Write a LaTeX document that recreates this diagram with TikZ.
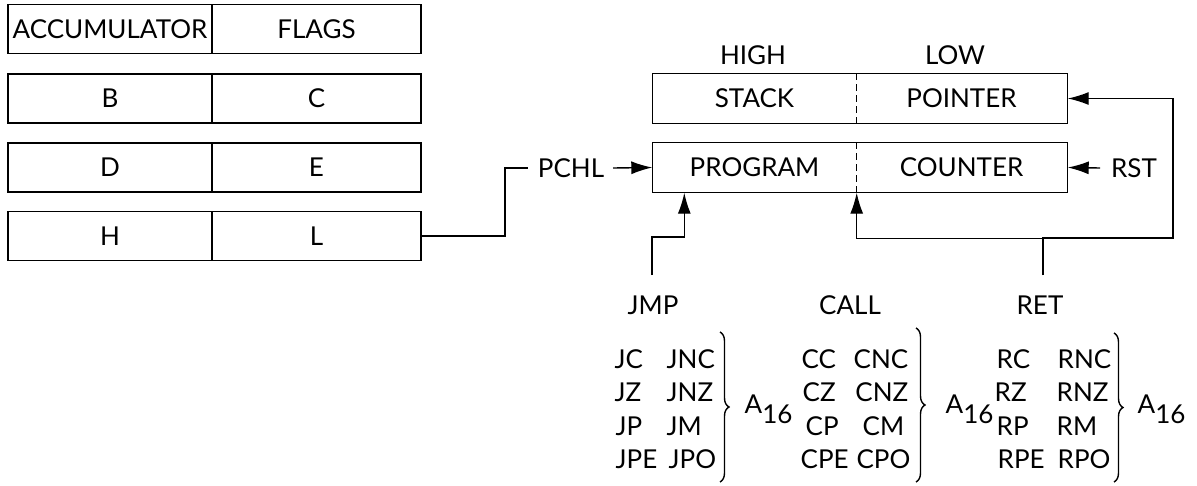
\documentclass[tikz,border=0pt]{standalone}
\usepackage{fontspec}
\setmainfont{Lato}
\usetikzlibrary{arrows.meta,decorations.pathreplacing,calc}
\begin{document}
\begin{tikzpicture}[x=1pt,y=-1pt,line width=1.4pt,
  every node/.style={font=\fontsize{26}{30}\selectfont,inner sep=0pt},
  txt/.style={text height=18.6pt,text depth=0pt},
  regbox/.style={draw,txt,minimum height=49pt,anchor=center},
  halfbox/.style={txt,minimum height=49pt,anchor=center},
  divider/.style={dash pattern=on 7pt off 4pt},
  arr/.style={-{Latex[length=21pt,width=13pt]}},
  word/.style={anchor=base west},
  rword/.style={anchor=base east},
  bracestyle/.style={decorate,decoration={brace,amplitude=9pt}}]
\useasboundingbox (0,0) rectangle (1197,485);
% left register file
\node[regbox,minimum width=204pt] (acc)   at (110,29)    {ACCUMULATOR};
\node[regbox,minimum width=209pt] (flags) at (316.5,29)  {FLAGS};
\node[regbox,minimum width=204pt] (B)     at (110,98.5)  {B};
\node[regbox,minimum width=209pt] (C)     at (316.5,98.5){C};
\node[regbox,minimum width=204pt] (D)     at (110,167.5) {D};
\node[regbox,minimum width=209pt] (E)     at (316.5,167.5){E};
\node[regbox,minimum width=204pt] (H)     at (110,236)   {H};
\node[regbox,minimum width=209pt] (L)     at (316.5,236) {L};
% stack pointer / program counter
\node[txt] (high) at (753,55) {HIGH};
\node[txt] (low)  at (955,55) {LOW};
\node[halfbox,minimum width=203pt] (stackH) at (754.5,98.5) {STACK};
\node[halfbox,minimum width=211pt] (stackL) at (961.5,98.5) {POINTER};
\node[halfbox,minimum width=203pt] (prog)   at (754.5,167.5) {PROGRAM};
\node[halfbox,minimum width=211pt] (cntr)   at (961.5,167.5) {COUNTER};
\draw (stackH.north west) rectangle (stackL.south east);
\draw[divider] (stackH.north east) -- (stackH.south east);
\draw (prog.north west) rectangle (cntr.south east);
\draw[divider] (prog.north east) -- (prog.south east);
% PCHL
\node[txt] (pchl) at (571,168) {PCHL};
\coordinate (pchlA) at (528,168);
\coordinate (pchlB) at (613,168);
\draw (L.east) -| ([xshift=-23pt]pchlA) -- (pchlA);
\draw[arr] (pchlB) -- (prog.west);
% RST
\node[txt] (rst) at (1134,168) {RST};
\coordinate (rstA) at (1100,168);
\draw[arr] (rstA) -- (cntr.east);
% JMP / CALL / RET
\node[txt] (jmp)  at (653,305.5)  {JMP};
\node[txt] (call) at (850,305.5)  {CALL};
\node[txt] (ret)  at (1040,305.5) {RET};
\coordinate (jmpA) at (652,275);
\draw[arr] (jmpA) -- ++(0,-38) -| ([xshift=32pt]prog.south west);
\coordinate (retA) at (1043,275);
\coordinate (fbR)  at (1173,238);
\draw[arr] (retA) |- ([yshift=-46pt]prog.south east) -- (prog.south east);
\draw[arr] (retA) |- (fbR) |- (stackL.east);
% instruction lists
\foreach \n/\x/\y/\t in {
  jc/614/368/JC, jnc/666/368/JNC,
  jz/614/401/JZ, jnz/666/401/JNZ,
  jp/615/435/JP, jm/666/435/JM,
  jpe/615/468/JPE, jpo/668/468/JPO,
  cc/801/368/CC, cz/802/401/CZ, cp/805/435/CP, cpe/800/468/CPE,
  cm/862/435/CM,
  rc/996/368/RC, rnc/1057/368/RNC,
  rz/994/401/RZ, rnz/1056/401/RNZ,
  rp/996/435/RP, rm/1056/435/RM,
  rpe/997/468/RPE, rpo/1057/468/RPO}
  \node[word] (\n) at (\x,\y) {\t};
\foreach \n/\x/\y/\t in {cnc/909/368/CNC, cnz/909/401/CNZ, cpo/911/468/CPO}
  \node[rword] (\n) at (\x,\y) {\t};
\draw[bracestyle] (720,332) -- (720,482);
\draw[bracestyle] (916,328) -- (916,482);
\draw[bracestyle] (1114,333) -- (1114,482);
\node[word] (a1) at (744,413) {A\raisebox{-10pt}{16}};
\node[word] (a2) at (945,413) {A\raisebox{-10pt}{16}};
\node[word] (a3) at (1137,413) {A\raisebox{-10pt}{16}};
\end{tikzpicture}
\end{document}
